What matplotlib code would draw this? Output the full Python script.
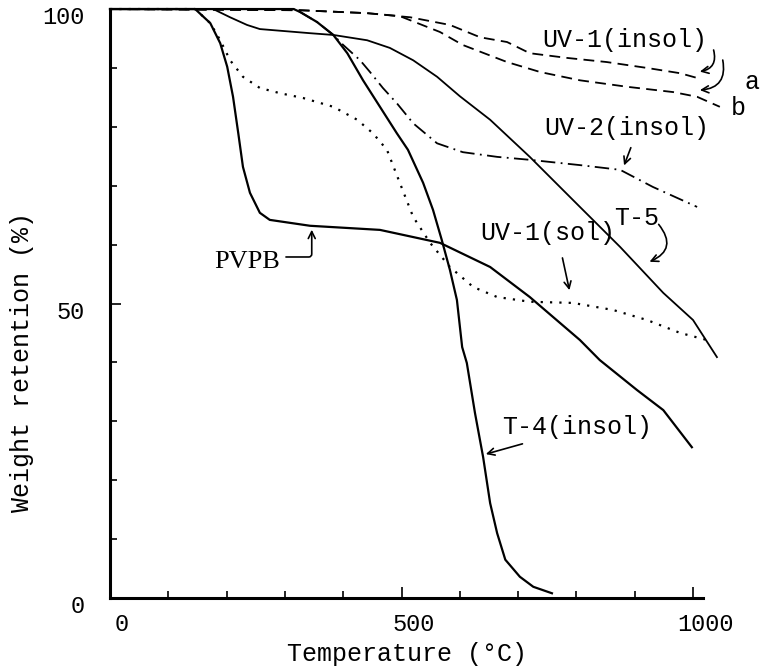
import matplotlib
matplotlib.use("Agg")
import matplotlib.pyplot as plt
import matplotlib.transforms as mtransforms
from matplotlib.ticker import MultipleLocator

plt.rcParams['font.family'] = ['Liberation Mono', 'DejaVu Sans Mono']

# thermogravimetric curves, temperature (C) vs weight retention (%)
pvpb_t = [0, 146, 172, 189, 201, 211, 220, 228, 240, 257, 274, 343, 463, 566, 652, 720, 806, 840, 904, 949, 998]
pvpb_w = [100, 100, 97.6, 94.2, 90.2, 85.1, 78.9, 73.2, 68.8, 65.4, 64.2, 63.2, 62.5, 60.3, 56.2, 51.1, 43.8, 40.4, 35.3, 31.9, 25.6]

t4_t = [0, 315, 326, 355, 383, 407, 434, 463, 492, 511, 537, 554, 569, 583, 595, 604, 612, 626, 640, 652, 664, 678, 703, 726, 758]
t4_w = [100, 100, 99.5, 97.8, 95.6, 92.5, 87.9, 83.4, 78.9, 76.1, 70.5, 65.9, 60.8, 55.7, 50.6, 42.6, 39.9, 31.4, 23.9, 16.1, 11.0, 6.5, 3.6, 1.9, 0.8]

t5_t = [0, 177, 206, 235, 257, 343, 383, 441, 480, 520, 561, 600, 652, 720, 806, 875, 949, 1000, 1041]
t5_w = [100, 100, 98.6, 97.3, 96.6, 95.9, 95.6, 94.7, 93.4, 91.3, 88.5, 85.2, 81.2, 74.9, 66.4, 59.6, 51.8, 47.2, 40.9]

uv2_t = [0, 315, 326, 355, 383, 400, 429, 446, 468, 492, 520, 561, 605, 664, 720, 806, 875, 931, 1007]
uv2_w = [100, 100, 99.5, 97.8, 95.6, 93.9, 91.3, 89.3, 86.6, 84.0, 80.6, 77.2, 75.7, 74.9, 74.4, 73.5, 72.7, 69.8, 66.4]

uv1_sol_t = [0, 146, 172, 189, 206, 228, 257, 292, 331, 383, 424, 451, 475, 497, 520, 549, 583, 623, 664, 720, 794, 863, 921, 978, 1024]
uv1_sol_w = [100, 100, 97.6, 94.7, 91.3, 88.5, 86.6, 85.7, 84.9, 83.4, 81.2, 78.9, 76.1, 70.5, 64.7, 60.3, 56.2, 52.8, 51.1, 50.3, 50.1, 48.9, 47.2, 45.0, 43.8]

uv1a_t = [0, 326, 441, 515, 583, 635, 681, 720, 784, 852, 921, 978, 1007]
uv1a_w = [100, 99.8, 99.3, 98.6, 97.3, 95.2, 94.4, 92.5, 91.7, 91.0, 90.0, 89.1, 88.3]

uv1b_t = [0, 326, 441, 497, 566, 605, 681, 738, 806, 887, 966, 1007, 1046]
uv1b_w = [100, 99.8, 99.3, 98.8, 96.1, 93.9, 91.0, 89.3, 87.9, 86.8, 85.9, 85.1, 83.4]

fig = plt.figure(figsize=(7.63, 6.70), dpi=100)
ax = fig.add_axes([0.1442, 0.1075, 0.8023, 0.879])

k = dict(color='black', clip_on=False)
ax.plot(uv1a_t, uv1a_w, lw=1.3, ls=(0, (6, 3.5)), **k)
ax.plot(uv1b_t, uv1b_w, lw=1.3, ls=(0, (6, 3.5)), **k)
ax.plot(uv2_t, uv2_w, lw=1.3, ls=(0, (8, 3, 1, 3)), **k)
ax.plot(uv1_sol_t, uv1_sol_w, lw=1.6, ls=(0, (1, 3.2)), **k)
ax.plot(t5_t, t5_w, lw=1.3, **k)
ax.plot(t4_t, t4_w, lw=1.6, **k)
ax.plot(pvpb_t, pvpb_w, lw=1.6, **k)

ax.set_xlim(0, 1050)
ax.set_ylim(0, 100)
for s in ['top', 'right']:
    ax.spines[s].set_visible(False)
ax.spines['left'].set_linewidth(2.2)
ax.spines['bottom'].set_linewidth(2.2)
ax.spines['bottom'].set_bounds(0, 1017)
ax.spines['left'].set_bounds(0, 100)

ax.set_xticks([0, 500, 1000])
ax.set_yticks([0, 50, 100])
ax.xaxis.set_minor_locator(MultipleLocator(100))
ax.yaxis.set_minor_locator(MultipleLocator(10))
ax.tick_params(which='major', direction='in', length=8, width=1.2, labelsize=17)
ax.tick_params(which='minor', direction='in', length=5, width=1.2)
ax.tick_params(axis='y', which='major', pad=18)
ax.tick_params(axis='x', which='major', pad=11)

# labels in the scan sit a little right / low of their ticks
dx = mtransforms.ScaledTranslation(0.12, 0, fig.dpi_scale_trans)
for lab in ax.get_xticklabels():
    lab.set_transform(lab.get_transform() + dx)
dy = mtransforms.ScaledTranslation(0, -0.06, fig.dpi_scale_trans)
for lab in ax.get_yticklabels():
    lab.set_transform(lab.get_transform() + dy)

ax.set_xlabel('Temperature (°C)', fontsize=18)
ax.set_ylabel('Weight retention (%)', fontsize=18)
ax.xaxis.set_label_coords(0.485, -0.075)
ax.yaxis.set_label_coords(-0.125, 0.40)

fs = 18
arr = dict(arrowstyle='->,head_length=0.5,head_width=0.25', color='black', lw=1.2)
ax.text(883, 94.7, 'UV-1(insol)', fontsize=fs, ha='center', va='center')
ax.annotate('', xy=(1007, 89.3), xytext=(1034, 93.5),
            arrowprops=dict(connectionstyle='arc3,rad=-0.6', **arr), annotation_clip=False)
ax.annotate('', xy=(1007, 86.2), xytext=(1050, 91.8),
            arrowprops=dict(connectionstyle='arc3,rad=-0.6', **arr), annotation_clip=False)
ax.text(1101, 87.6, 'a', fontsize=fs, ha='center', va='center')
ax.text(1077, 83.2, 'b', fontsize=fs, ha='center', va='center')

ax.text(887, 79.8, 'UV-2(insol)', fontsize=fs, ha='center', va='center')
ax.annotate('', xy=(880, 73.0), xytext=(895, 76.9), arrowprops=dict(**arr))

ax.text(903, 64.6, 'T-5', fontsize=fs, ha='center', va='center')
ax.annotate('', xy=(921, 56.9), xytext=(938, 63.8),
            arrowprops=dict(connectionstyle='arc3,rad=-0.7', **arr))

ax.text(751, 62.0, 'UV-1(sol)', fontsize=fs, ha='center', va='center')
ax.annotate('', xy=(789, 51.8), xytext=(775, 58.2), arrowprops=dict(**arr))

ax.text(235, 57.0, 'PVPB', fontsize=19, ha='center', va='center', family='Liberation Serif')
ax.annotate('', xy=(346, 63.0), xytext=(297, 57.9),
            arrowprops=dict(connectionstyle='angle,angleA=0,angleB=90,rad=3', **arr))

ax.text(801, 29.0, 'T-4(insol)', fontsize=fs, ha='center', va='center')
ax.annotate('', xy=(640, 24.3), xytext=(712, 26.3), arrowprops=dict(**arr))

fig.savefig('out.png', dpi=100)
